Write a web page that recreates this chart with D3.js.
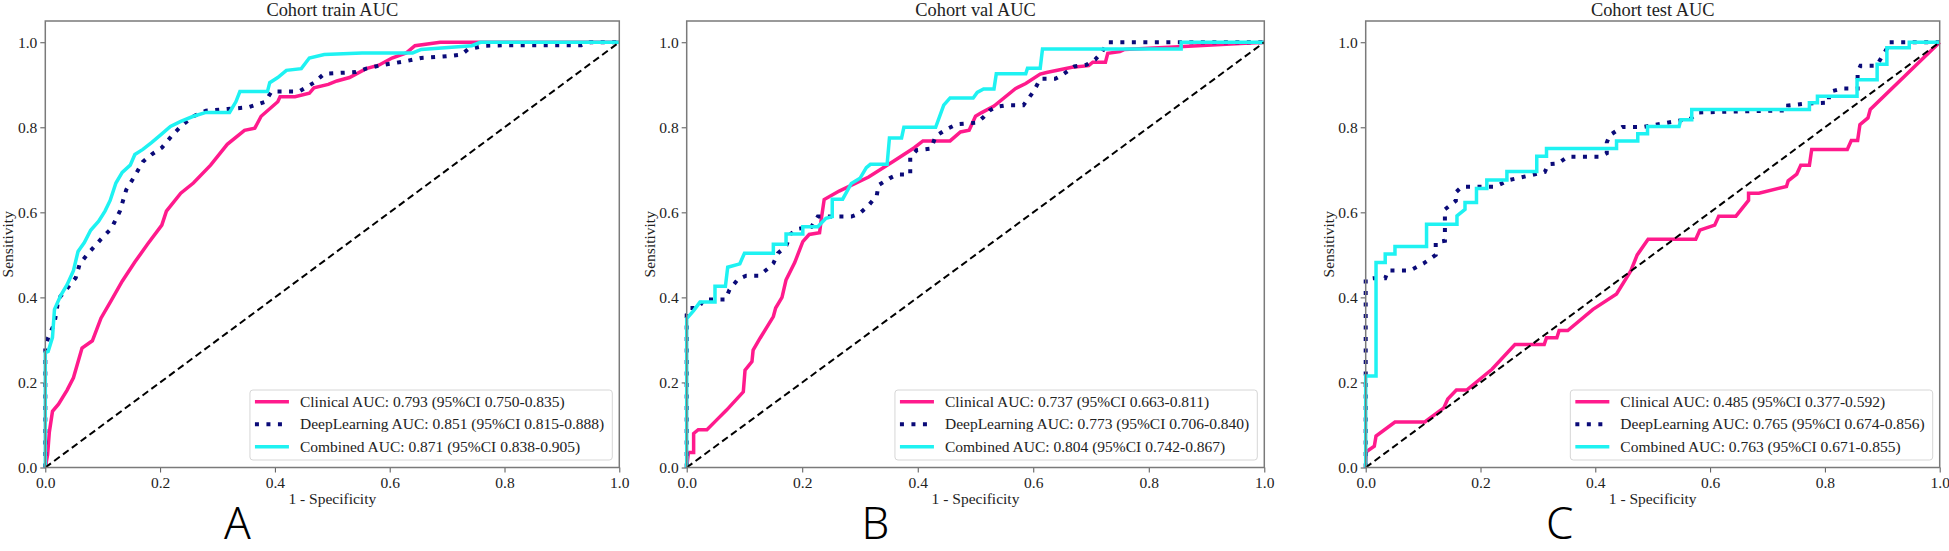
<!DOCTYPE html>
<html>
<head>
<meta charset="utf-8">
<script src="https://cdn.jsdelivr.net/npm/d3@7"></script>
<style>
  body { margin: 0; background: #fff; }
  text { font-family: "Liberation Serif", "Times New Roman", serif; fill: #222; }
</style>
</head>
<body>
<svg id="chart" width="1949" height="551"></svg>
<script>
// ROC points [1 - specificity, sensitivity]
var trainClinical = [[0,0],[0.004,0.03],[0.007,0.083],[0.0125,0.132],[0.023,0.149],[0.038,0.182],[0.049,0.211],[0.064,0.281],[0.082,0.298],[0.097,0.351],[0.115,0.393],[0.134,0.438],[0.156,0.483],[0.178,0.525],[0.203,0.570],[0.211,0.603],[0.236,0.645],[0.258,0.669],[0.288,0.711],[0.317,0.760],[0.347,0.793],[0.365,0.798],[0.376,0.826],[0.405,0.860],[0.409,0.872],[0.435,0.872],[0.460,0.880],[0.468,0.893],[0.493,0.901],[0.508,0.909],[0.530,0.917],[0.559,0.938],[0.581,0.946],[0.604,0.963],[0.629,0.975],[0.644,0.992],[0.688,1],[1,1]];
var trainDeep = [[0,0],[0,0.28],[0.005,0.306],[0.016,0.339],[0.023,0.397],[0.038,0.421],[0.053,0.446],[0.060,0.479],[0.075,0.504],[0.097,0.537],[0.115,0.562],[0.130,0.603],[0.141,0.653],[0.156,0.686],[0.170,0.719],[0.185,0.736],[0.203,0.752],[0.221,0.781],[0.236,0.802],[0.258,0.826],[0.280,0.839],[0.317,0.843],[0.354,0.847],[0.383,0.860],[0.394,0.884],[0.442,0.884],[0.468,0.905],[0.486,0.926],[0.541,0.930],[0.559,0.938],[0.585,0.946],[0.626,0.955],[0.655,0.963],[0.699,0.967],[0.725,0.971],[0.736,0.983],[0.765,0.992],[0.802,0.993],[0.934,0.993],[0.949,1],[1,1]];
var trainCombined = [[0,0],[0,0.27],[0.005,0.273],[0.0125,0.306],[0.016,0.372],[0.027,0.405],[0.038,0.430],[0.049,0.463],[0.057,0.508],[0.068,0.529],[0.079,0.558],[0.093,0.579],[0.104,0.603],[0.113,0.628],[0.123,0.669],[0.134,0.694],[0.148,0.711],[0.156,0.736],[0.170,0.748],[0.185,0.764],[0.200,0.781],[0.218,0.802],[0.236,0.814],[0.258,0.826],[0.280,0.835],[0.321,0.835],[0.332,0.860],[0.339,0.884],[0.387,0.884],[0.391,0.905],[0.405,0.917],[0.420,0.934],[0.446,0.938],[0.460,0.963],[0.486,0.971],[0.552,0.975],[0.640,0.975],[0.655,0.983],[0.743,0.992],[0.758,1],[1,1]];

var valClinical = [[0,0],[0.003,0.035],[0.012,0.035],[0.012,0.080],[0.02,0.089],[0.035,0.089],[0.052,0.112],[0.069,0.135],[0.098,0.178],[0.101,0.229],[0.113,0.249],[0.115,0.276],[0.127,0.304],[0.150,0.355],[0.154,0.375],[0.165,0.400],[0.172,0.441],[0.187,0.482],[0.201,0.531],[0.212,0.548],[0.230,0.552],[0.233,0.584],[0.238,0.630],[0.264,0.650],[0.315,0.683],[0.358,0.720],[0.394,0.752],[0.409,0.768],[0.456,0.768],[0.474,0.789],[0.489,0.793],[0.500,0.826],[0.510,0.834],[0.532,0.850],[0.569,0.891],[0.587,0.903],[0.612,0.925],[0.623,0.929],[0.667,0.941],[0.696,0.945],[0.703,0.953],[0.725,0.953],[0.729,0.974],[0.750,0.978],[0.758,0.983],[0.860,0.990],[1,1]];
var valDeep = [[0,0],[0,0.36],[0.005,0.375],[0.02,0.375],[0.03,0.395],[0.067,0.395],[0.074,0.418],[0.089,0.443],[0.103,0.451],[0.125,0.451],[0.14,0.467],[0.15,0.480],[0.158,0.504],[0.172,0.520],[0.18,0.549],[0.191,0.561],[0.216,0.566],[0.227,0.590],[0.285,0.590],[0.30,0.598],[0.314,0.615],[0.329,0.639],[0.332,0.664],[0.351,0.680],[0.365,0.689],[0.387,0.689],[0.387,0.730],[0.398,0.746],[0.423,0.750],[0.431,0.779],[0.449,0.795],[0.467,0.807],[0.503,0.811],[0.514,0.824],[0.525,0.840],[0.536,0.848],[0.554,0.852],[0.583,0.852],[0.590,0.865],[0.601,0.885],[0.612,0.914],[0.638,0.914],[0.649,0.922],[0.671,0.943],[0.692,0.947],[0.707,0.959],[0.718,0.975],[0.729,1],[1,1]];
var valCombined = [[0,0],[0,0.35],[0.012,0.369],[0.023,0.389],[0.049,0.389],[0.049,0.426],[0.067,0.426],[0.071,0.471],[0.092,0.479],[0.1,0.504],[0.15,0.504],[0.15,0.525],[0.172,0.525],[0.172,0.549],[0.201,0.549],[0.201,0.566],[0.227,0.566],[0.241,0.586],[0.252,0.590],[0.252,0.631],[0.27,0.631],[0.285,0.668],[0.3,0.680],[0.311,0.705],[0.318,0.713],[0.347,0.713],[0.351,0.775],[0.372,0.775],[0.376,0.8],[0.431,0.8],[0.445,0.852],[0.456,0.869],[0.496,0.869],[0.503,0.882],[0.514,0.890],[0.532,0.890],[0.536,0.926],[0.587,0.926],[0.590,0.939],[0.612,0.939],[0.616,0.984],[0.856,0.984],[0.856,1],[1,1]];

var testClinical = [[0,0],[0.001,0.037],[0.015,0.05],[0.018,0.074],[0.051,0.107],[0.103,0.107],[0.136,0.14],[0.143,0.161],[0.158,0.182],[0.176,0.182],[0.22,0.231],[0.26,0.289],[0.311,0.289],[0.315,0.305],[0.333,0.305],[0.337,0.322],[0.352,0.322],[0.396,0.372],[0.437,0.408],[0.462,0.463],[0.473,0.5],[0.492,0.537],[0.575,0.537],[0.582,0.558],[0.608,0.570],[0.615,0.591],[0.645,0.591],[0.667,0.628],[0.667,0.645],[0.685,0.645],[0.733,0.661],[0.736,0.674],[0.751,0.690],[0.758,0.711],[0.773,0.711],[0.777,0.748],[0.839,0.748],[0.846,0.769],[0.857,0.769],[0.861,0.806],[0.875,0.822],[0.879,0.842],[1,1]];
var testDeep = [[0,0],[0,0.443],[0.013,0.445],[0.034,0.445],[0.039,0.463],[0.077,0.463],[0.101,0.480],[0.122,0.500],[0.122,0.530],[0.138,0.533],[0.138,0.607],[0.157,0.627],[0.157,0.647],[0.167,0.660],[0.225,0.660],[0.25,0.676],[0.28,0.685],[0.312,0.695],[0.318,0.713],[0.335,0.715],[0.352,0.731],[0.408,0.731],[0.42,0.739],[0.42,0.764],[0.425,0.781],[0.447,0.801],[0.484,0.801],[0.565,0.82],[0.58,0.835],[0.736,0.840],[0.736,0.851],[0.769,0.856],[0.807,0.858],[0.807,0.883],[0.83,0.891],[0.857,0.891],[0.857,0.929],[0.862,0.945],[0.89,0.945],[0.908,0.985],[0.911,1],[1,1]];
var testCombined = [[0,0],[0,0.215],[0.018,0.215],[0.018,0.482],[0.034,0.482],[0.034,0.502],[0.051,0.502],[0.051,0.520],[0.106,0.520],[0.106,0.572],[0.159,0.572],[0.159,0.592],[0.173,0.607],[0.173,0.623],[0.193,0.623],[0.193,0.656],[0.211,0.656],[0.211,0.676],[0.246,0.676],[0.246,0.696],[0.298,0.696],[0.298,0.732],[0.315,0.732],[0.315,0.750],[0.437,0.750],[0.437,0.768],[0.474,0.768],[0.474,0.785],[0.491,0.785],[0.491,0.802],[0.546,0.802],[0.549,0.818],[0.568,0.818],[0.568,0.842],[0.773,0.842],[0.773,0.858],[0.787,0.858],[0.787,0.873],[0.856,0.873],[0.856,0.912],[0.891,0.912],[0.891,0.948],[0.908,0.948],[0.908,0.987],[0.947,0.987],[0.947,1],[1,1]];

var trainLabels = ["Clinical AUC: 0.793 (95%CI 0.750-0.835)", "DeepLearning AUC: 0.851 (95%CI 0.815-0.888)", "Combined AUC: 0.871 (95%CI 0.838-0.905)"];
var valLabels = ["Clinical AUC: 0.737 (95%CI 0.663-0.811)", "DeepLearning AUC: 0.773 (95%CI 0.706-0.840)", "Combined AUC: 0.804 (95%CI 0.742-0.867)"];
var testLabels = ["Clinical AUC: 0.485 (95%CI 0.377-0.592)", "DeepLearning AUC: 0.765 (95%CI 0.674-0.856)", "Combined AUC: 0.763 (95%CI 0.671-0.855)"];

var titles = ["Cohort train AUC", "Cohort val AUC", "Cohort test AUC"];
var tags = ["A", "B", "C"];
var ticks = [0, 0.2, 0.4, 0.6, 0.8, 1.0];

var colors = ["#ff1a8c", "#0a0a78", "#1ef2f2"];

var panels = [
  {left: 45.3, right: 619.3, series: [trainClinical, trainDeep, trainCombined], labels: trainLabels, tagDx: -95},
  {left: 686.7, right: 1264.3, series: [valClinical, valDeep, valCombined], labels: valLabels, tagDx: -100},
  {left: 1365.7, right: 1939.7, series: [testClinical, testDeep, testCombined], labels: testLabels, tagDx: -93}
];
var plotTop = 21, plotBottom = 467.5;

var svg = d3.select("#chart");

panels.forEach(function(p, i) {
  var x = d3.scaleLinear().domain([0, 1]).range([p.left, p.right]);
  var y = d3.scaleLinear().domain([0, 1.05]).range([plotBottom, plotTop]);
  var g = svg.append("g");

  // axes
  var xa = g.append("g").attr("transform", "translate(0," + plotBottom + ")")
    .call(d3.axisBottom(x).tickValues(ticks).tickFormat(d3.format(".1f")).tickSize(5).tickPadding(4));
  var ya = g.append("g").attr("transform", "translate(" + p.left + ",0)")
    .call(d3.axisLeft(y).tickValues(ticks).tickFormat(d3.format(".1f")).tickSize(5).tickPadding(3));
  [xa, ya].forEach(function(a) {
    a.select(".domain").remove();
    a.selectAll(".tick line").attr("stroke", "#555").attr("stroke-width", 1);
    a.selectAll(".tick text").attr("font-size", "15.5px").attr("fill", "#222")
      .style("font-family", "'Liberation Serif', serif");
  });

  var line = d3.line().x(function(d) { return x(d[0]); }).y(function(d) { return y(d[1]); });

  p.series.forEach(function(s, k) {
    var path = g.append("path").datum(s).attr("d", line)
      .attr("fill", "none").attr("stroke", colors[k])
      .attr("stroke-linejoin", "miter");
    if (k === 1) {
      path.attr("stroke-width", 4).attr("stroke-dasharray", "4,7.5");
    } else {
      path.attr("stroke-width", 3.5);
    }
  });

  // chance line
  g.append("path").datum([[0, 0], [1, 1]]).attr("d", line)
    .attr("fill", "none").attr("stroke", "#000").attr("stroke-width", 2)
    .attr("stroke-dasharray", "7,4");

  // frame
  g.append("rect").attr("x", p.left).attr("y", plotTop)
    .attr("width", p.right - p.left).attr("height", plotBottom - plotTop)
    .attr("fill", "none").attr("stroke", "#7a7a7a").attr("stroke-width", 1.5);

  // legend
  var lg = g.append("g");
  var box = lg.append("rect").attr("fill", "#fff").attr("fill-opacity", 0.85)
    .attr("stroke", "#d6d6d6").attr("rx", 3);
  var maxW = 0;
  var rows = [];
  p.labels.forEach(function(lab, k) {
    var t = lg.append("text").text(lab).attr("font-size", "15.5px");
    maxW = Math.max(maxW, t.node().getComputedTextLength());
    rows.push(t);
  });
  var bw = 50 + maxW + 8, bh = 70;
  var bx = p.right - 7 - bw, by = plotBottom - 7.5 - bh;
  box.attr("x", bx).attr("y", by).attr("width", bw).attr("height", bh);
  rows.forEach(function(t, k) {
    var cy = by + 11.7 + k * 22.5;
    t.attr("x", bx + 50).attr("y", cy + 5);
    var h = lg.append("line").attr("x1", bx + 5).attr("x2", bx + 39)
      .attr("y1", cy).attr("y2", cy).attr("stroke", colors[k]);
    if (k === 1) h.attr("stroke-width", 4).attr("stroke-dasharray", "4,7.5");
    else h.attr("stroke-width", 3.5);
  });

  var cx = (p.left + p.right) / 2;
  g.append("text").attr("x", cx).attr("y", 16).attr("text-anchor", "middle")
    .attr("font-size", "18.4px").text(titles[i]);
  g.append("text").attr("x", cx).attr("y", 504).attr("text-anchor", "middle")
    .attr("font-size", "15.5px").text("1 - Specificity");
  g.append("text").attr("transform", "translate(" + (p.left - 32) + "," + ((plotTop + plotBottom) / 2) + ") rotate(-90)")
    .attr("text-anchor", "middle").attr("font-size", "15.5px").text("Sensitivity");
  g.append("text").attr("x", cx + p.tagDx).attr("y", 539).attr("text-anchor", "middle")
    .attr("font-size", "44px").attr("font-weight", 300)
    .style("font-family", "'Noto Sans', sans-serif").style("fill", "#000").text(tags[i]);
});
</script>
</body>
</html>
